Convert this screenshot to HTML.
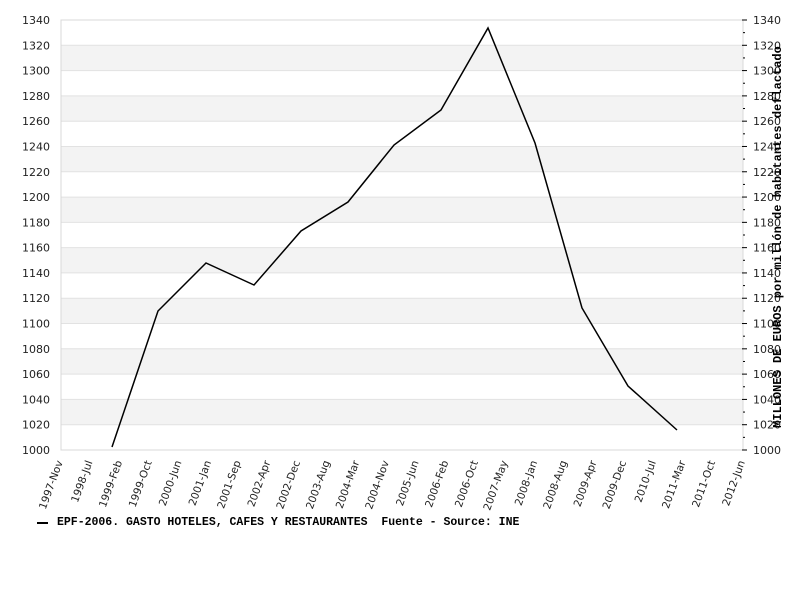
<!DOCTYPE html>
<html><head><style>body{margin:0;background:#fff}</style></head><body>
<svg width="800" height="600" xmlns="http://www.w3.org/2000/svg" font-family="DejaVu Sans, sans-serif">
<rect width="800" height="600" fill="#fff"/>
<g id="bands">
<rect x="61" y="45.3" width="682" height="25.3" fill="#f3f3f3"/>
<rect x="61" y="95.9" width="682" height="25.3" fill="#f3f3f3"/>
<rect x="61" y="146.5" width="682" height="25.3" fill="#f3f3f3"/>
<rect x="61" y="197.1" width="682" height="25.3" fill="#f3f3f3"/>
<rect x="61" y="247.6" width="682" height="25.3" fill="#f3f3f3"/>
<rect x="61" y="298.2" width="682" height="25.3" fill="#f3f3f3"/>
<rect x="61" y="348.8" width="682" height="25.3" fill="#f3f3f3"/>
<rect x="61" y="399.4" width="682" height="25.3" fill="#f3f3f3"/>
</g>
<g stroke="#e2e2e2" stroke-width="1">
<line x1="61" x2="743" y1="45.3" y2="45.3"/><line x1="61" x2="743" y1="70.6" y2="70.6"/>
<line x1="61" x2="743" y1="95.9" y2="95.9"/><line x1="61" x2="743" y1="121.2" y2="121.2"/>
<line x1="61" x2="743" y1="146.5" y2="146.5"/><line x1="61" x2="743" y1="171.8" y2="171.8"/>
<line x1="61" x2="743" y1="197.1" y2="197.1"/><line x1="61" x2="743" y1="222.4" y2="222.4"/>
<line x1="61" x2="743" y1="247.6" y2="247.6"/><line x1="61" x2="743" y1="272.9" y2="272.9"/>
<line x1="61" x2="743" y1="298.2" y2="298.2"/><line x1="61" x2="743" y1="323.5" y2="323.5"/>
<line x1="61" x2="743" y1="348.8" y2="348.8"/><line x1="61" x2="743" y1="374.1" y2="374.1"/>
<line x1="61" x2="743" y1="399.4" y2="399.4"/><line x1="61" x2="743" y1="424.7" y2="424.7"/>
</g>
<rect x="61" y="20" width="682" height="430" fill="none" stroke="#d8d8d8"/>
<g id="rt" stroke="#000"></g>
<g id="yl" font-size="11" fill="#222"></g>
<g id="xl" font-size="10.5" fill="#222"></g>
<polyline fill="none" stroke="#000" stroke-width="1.5" points="112,447 158,311 206,263 254,285 301,231 348,202 394,145 441,110 488,28 535,143 582,308 628,386 677,430"/>
<text transform="translate(781,237) rotate(-90)" text-anchor="middle" font-family="Liberation Mono, monospace" font-weight="bold" font-size="12">MILLONES DE EUROS por millón de habitantes deflactado</text>
<line x1="37" x2="48" y1="523" y2="523" stroke="#000" stroke-width="2"/>
<text x="57" y="525" font-family="Liberation Mono, monospace" font-weight="bold" font-size="11.5" xml:space="preserve" style="white-space:pre">EPF-2006. GASTO HOTELES, CAFES Y RESTAURANTES  Fuente - Source: INE</text>
</svg>
<script>
const ns="http://www.w3.org/2000/svg";
const yl=document.getElementById('yl'),rt=document.getElementById('rt'),xl=document.getElementById('xl');
for(let k=0;k<=17;k++){const v=1000+20*k,y=450-k*430/17;
 let t=document.createElementNS(ns,'text');t.setAttribute('x',50);t.setAttribute('y',y+4);t.setAttribute('text-anchor','end');t.textContent=v;yl.appendChild(t);
 t=document.createElementNS(ns,'text');t.setAttribute('x',753);t.setAttribute('y',y+4);t.textContent=v;yl.appendChild(t);
 let l=document.createElementNS(ns,'line');l.setAttribute('x1',742);l.setAttribute('x2',747);l.setAttribute('y1',y);l.setAttribute('y2',y);rt.appendChild(l);
 if(k<17){l=document.createElementNS(ns,'line');l.setAttribute('x1',743);l.setAttribute('x2',745);l.setAttribute('y1',y-215/17);l.setAttribute('y2',y-215/17);rt.appendChild(l);}
}
const labs=["1997-Nov","1998-Jul","1999-Feb","1999-Oct","2000-Jun","2001-Jan","2001-Sep","2002-Apr","2002-Dec","2003-Aug","2004-Mar","2004-Nov","2005-Jun","2006-Feb","2006-Oct","2007-May","2008-Jan","2008-Aug","2009-Apr","2009-Dec","2010-Jul","2011-Mar","2011-Oct","2012-Jun"];
labs.forEach((s,i)=>{const x=63+i*682/23;const t=document.createElementNS(ns,'text');
 t.setAttribute('transform',`translate(${x},462) rotate(-70)`);t.setAttribute('text-anchor','end');t.textContent=s;xl.appendChild(t);});
</script>
</body></html>
